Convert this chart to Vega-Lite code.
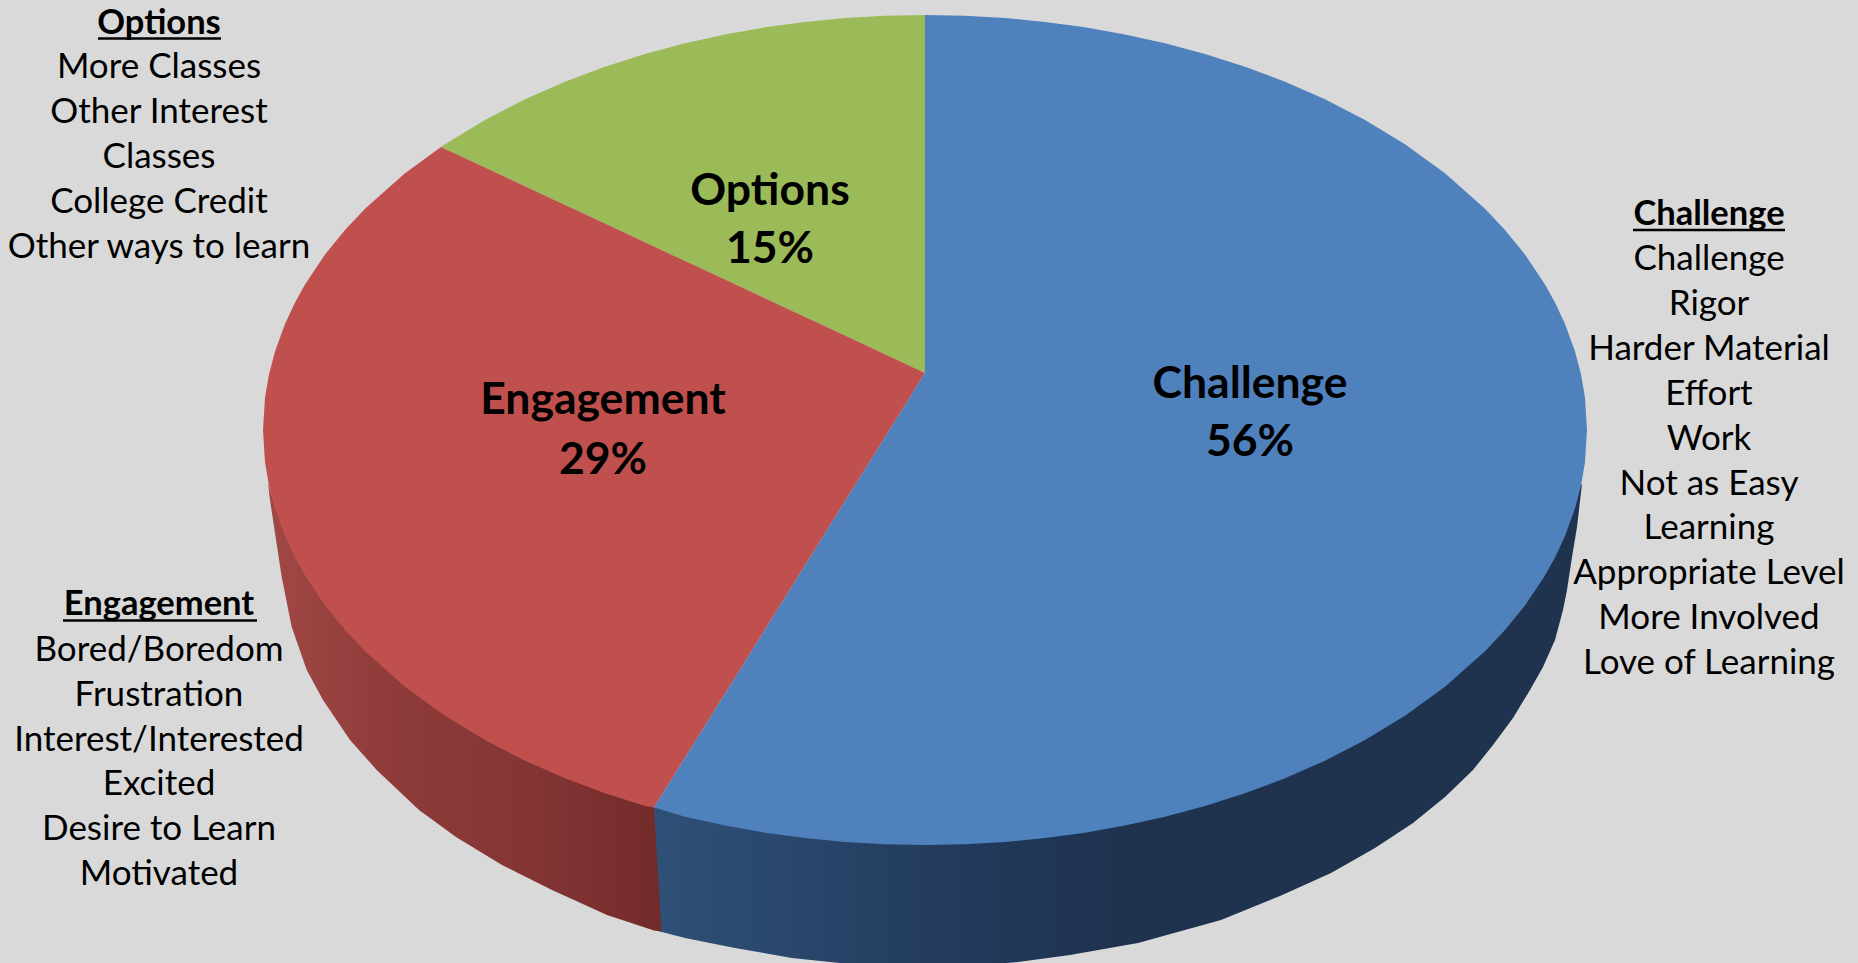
{"$schema":"https://vega.github.io/schema/vega-lite/v6.json","width":1858,"height":963,"padding":0,"autosize":{"type":"fit","contains":"padding"},"background":"#D9D9D9","config":{"view":{"stroke":null}},
"datasets":{
"sideBlue":[{"x":654,"y":930,"y2":807},{"x":685,"y":938,"y2":810},{"x":735,"y":948,"y2":815},{"x":792,"y":958,"y2":830},{"x":830,"y":962,"y2":830},{"x":870,"y":966,"y2":835},{"x":913,"y":968,"y2":835},{"x":960,"y":967,"y2":835},{"x":1018,"y":962,"y2":835},{"x":1070,"y":955,"y2":825},{"x":1138,"y":943,"y2":815},{"x":1221,"y":920,"y2":795},{"x":1280,"y":896,"y2":770},{"x":1331,"y":873,"y2":750},{"x":1375,"y":848,"y2":720},{"x":1413,"y":823,"y2":700},{"x":1445,"y":797,"y2":670},{"x":1473,"y":770,"y2":640},{"x":1493,"y":745,"y2":620},{"x":1513,"y":718,"y2":600},{"x":1530,"y":690,"y2":580},{"x":1543,"y":667,"y2":560},{"x":1555,"y":640,"y2":540},{"x":1563,"y":610,"y2":520},{"x":1567,"y":590,"y2":510},{"x":1572,"y":557,"y2":500},{"x":1577,"y":527,"y2":490},{"x":1582,"y":484,"y2":484}],
"sideRed":[{"x":268,"y":483,"y2":483},{"x":270,"y":500,"y2":490},{"x":275,"y":533,"y2":505},{"x":281.7,"y":577,"y2":520},{"x":291.7,"y":627,"y2":540},{"x":306.7,"y":670,"y2":570},{"x":323,"y":700,"y2":600},{"x":350,"y":740,"y2":625},{"x":376.7,"y":770,"y2":655},{"x":419,"y":810,"y2":690},{"x":456,"y":837,"y2":710},{"x":502,"y":865,"y2":730},{"x":552,"y":890,"y2":770},{"x":607,"y":915,"y2":790},{"x":654,"y":930.5,"y2":807.5},{"x":661.5,"y":931.5,"y2":931.5}],
"green":[{"x":441,"y":147,"y2":147},{"x":445,"y":144.2,"y2":148.9},{"x":485,"y":120,"y2":167.5},{"x":525,"y":99.3,"y2":186.2},{"x":565,"y":81.7,"y2":204.9},{"x":605,"y":66.7,"y2":223.6},{"x":645,"y":54,"y2":242.3},{"x":685,"y":43.2,"y2":261},{"x":725,"y":34.4,"y2":279.6},{"x":765,"y":27.3,"y2":298.3},{"x":805,"y":21.9,"y2":317},{"x":845,"y":18,"y2":335.6},{"x":885,"y":15.7,"y2":354.3},{"x":925,"y":15,"y2":373}],
"red":[{"x":263,"y":430,"y2":430},{"x":265,"y":397.8,"y2":462.2},{"x":269,"y":374.2,"y2":485.8},{"x":275,"y":351.4,"y2":508.6},{"x":285,"y":323.9,"y2":536.1},{"x":295,"y":302.6,"y2":557.4},{"x":305,"y":284.5,"y2":575.5},{"x":325,"y":254.6,"y2":605.4},{"x":345,"y":229.9,"y2":630.1},{"x":365,"y":208.7,"y2":651.3},{"x":405,"y":173.2,"y2":686.8},{"x":441,"y":147,"y2":713.1},{"x":445,"y":148.9,"y2":715.8},{"x":485,"y":167.5,"y2":740},{"x":525,"y":186.2,"y2":760.7},{"x":565,"y":204.9,"y2":778.3},{"x":605,"y":223.6,"y2":793.3},{"x":645,"y":242.3,"y2":806},{"x":654,"y":246.5,"y2":807.5},{"x":685,"y":261,"y2":757.8},{"x":725,"y":279.6,"y2":693.7},{"x":765,"y":298.3,"y2":629.6},{"x":805,"y":317,"y2":565.4},{"x":845,"y":335.6,"y2":501.3},{"x":885,"y":354.3,"y2":437.2},{"x":925,"y":373,"y2":373}],
"blue":[{"x":654,"y":807.5,"y2":807.5},{"x":685,"y":757.8,"y2":816.8},{"x":725,"y":693.7,"y2":825.6},{"x":765,"y":629.6,"y2":832.7},{"x":805,"y":565.4,"y2":838.1},{"x":845,"y":501.3,"y2":842},{"x":885,"y":437.2,"y2":844.3},{"x":925,"y":373,"y2":845},{"x":925.01,"y":15,"y2":845},{"x":965,"y":15.7,"y2":844.3},{"x":1005,"y":18,"y2":842},{"x":1045,"y":21.9,"y2":838.1},{"x":1085,"y":27.3,"y2":832.7},{"x":1125,"y":34.4,"y2":825.6},{"x":1165,"y":43.2,"y2":816.8},{"x":1205,"y":54,"y2":806},{"x":1245,"y":66.7,"y2":793.3},{"x":1285,"y":81.7,"y2":778.3},{"x":1325,"y":99.3,"y2":760.7},{"x":1365,"y":120,"y2":740},{"x":1405,"y":144.2,"y2":715.8},{"x":1445,"y":173.2,"y2":686.8},{"x":1485,"y":208.7,"y2":651.3},{"x":1505,"y":229.9,"y2":630.1},{"x":1525,"y":254.6,"y2":605.4},{"x":1545,"y":284.5,"y2":575.5},{"x":1555,"y":302.6,"y2":557.4},{"x":1565,"y":323.9,"y2":536.1},{"x":1575,"y":351.4,"y2":508.6},{"x":1581,"y":374.2,"y2":485.8},{"x":1585,"y":397.8,"y2":462.2},{"x":1587,"y":430,"y2":430}],
"terms":[{"t":"More Classes","x":159,"y":67},{"t":"Other Interest","x":159,"y":112},{"t":"Classes","x":159,"y":157},{"t":"College Credit","x":159,"y":202},{"t":"Other ways to learn","x":159,"y":247},{"t":"Challenge","x":1709,"y":259},{"t":"Rigor","x":1709,"y":304},{"t":"Harder Material","x":1709,"y":349},{"t":"Effort","x":1709,"y":394},{"t":"Work","x":1709,"y":439},{"t":"Not as Easy","x":1709,"y":484},{"t":"Learning","x":1709,"y":528},{"t":"Appropriate Level","x":1709,"y":573},{"t":"More Involved","x":1709,"y":618},{"t":"Love of Learning","x":1709,"y":663},{"t":"Bored/Boredom","x":159,"y":650},{"t":"Frustration","x":159,"y":695},{"t":"Interest/Interested","x":159,"y":740},{"t":"Excited","x":159,"y":784},{"t":"Desire to Learn","x":159,"y":829},{"t":"Motivated","x":159,"y":874}],
"heads":[{"t":"Options","x":159,"y":24,"x1":98,"x2":221,"u":38.5},{"t":"Challenge","x":1709,"y":215,"x1":1633,"x2":1785,"u":230},{"t":"Engagement","x":159,"y":605,"x1":63,"x2":257,"u":620.5}],
"slices":[{"t":"Options","x":770,"y":192},{"t":"15%","x":770,"y":250},{"t":"Engagement","x":603,"y":401},{"t":"29%","x":603,"y":461},{"t":"Challenge","x":1250,"y":385},{"t":"56%","x":1250,"y":443}]
},
"encoding":{"x":{"field":"x","type":"quantitative","axis":null,"scale":{"domain":[0,1858],"nice":false,"zero":false}},"y":{"field":"y","type":"quantitative","axis":null,"scale":{"domain":[963,0],"nice":false,"zero":false}}},
"layer":[
{"data":{"name":"sideBlue"},"mark":{"type":"area","clip":true,"color":{"gradient":"linear","x1":0,"y1":0,"x2":1,"y2":0,"stops":[{"offset":0,"color":"#2F5077"},{"offset":0.15,"color":"#2A466B"},{"offset":0.35,"color":"#21395A"},{"offset":0.5,"color":"#1F334F"},{"offset":1,"color":"#1F334F"}]}},"encoding":{"y2":{"field":"y2"}}},
{"data":{"name":"sideRed"},"mark":{"type":"area","clip":true,"color":{"gradient":"linear","x1":0,"y1":0,"x2":1,"y2":0,"stops":[{"offset":0,"color":"#A04845"},{"offset":0.3,"color":"#8F3C3A"},{"offset":0.7,"color":"#823433"},{"offset":1,"color":"#722B2A"}]}},"encoding":{"y2":{"field":"y2"}}},
{"data":{"name":"green"},"mark":{"type":"area","color":"#9BBB59"},"encoding":{"y2":{"field":"y2"}}},
{"data":{"name":"red"},"mark":{"type":"area","color":"#C0504D"},"encoding":{"y2":{"field":"y2"}}},
{"data":{"name":"blue"},"mark":{"type":"area","color":"#4F81BD"},"encoding":{"y2":{"field":"y2"}}},
{"data":{"name":"terms"},"mark":{"type":"text","font":"Lato","fontSize":35,"color":"#000000","align":"center","baseline":"middle"},"encoding":{"text":{"field":"t"}}},
{"data":{"name":"heads"},"mark":{"type":"text","font":"Lato","fontWeight":"bold","fontSize":34.5,"color":"#000000","align":"center","baseline":"middle"},"encoding":{"text":{"field":"t"}}},
{"data":{"name":"heads"},"mark":{"type":"rule","color":"#000000","strokeWidth":2.5},"encoding":{"x":{"field":"x1","type":"quantitative"},"x2":{"field":"x2"},"y":{"field":"u","type":"quantitative"}}},
{"data":{"name":"slices"},"mark":{"type":"text","font":"Lato","fontWeight":"bold","fontSize":44.5,"color":"#000000","align":"center","baseline":"middle"},"encoding":{"text":{"field":"t"}}}
]}
